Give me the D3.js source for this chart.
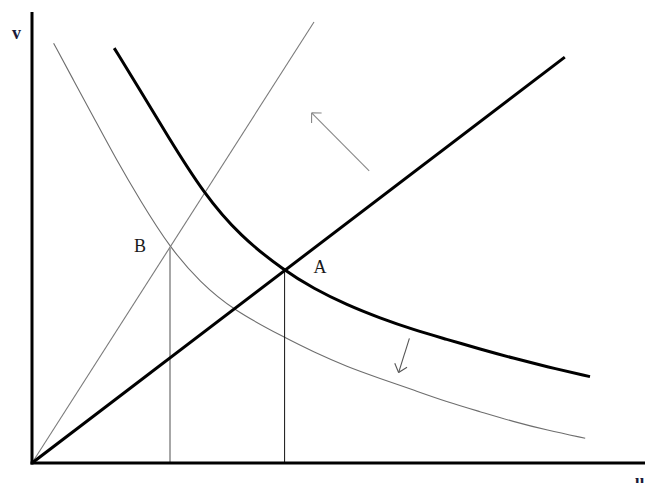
<!DOCTYPE html>
<html>
<head>
<meta charset="utf-8">
<script src="https://cdn.jsdelivr.net/npm/d3@7"></script>
<style>
  html, body { margin: 0; padding: 0; background: #fff; }
  svg { display: block; }
</style>
</head>
<body>
<svg id="chart" width="645" height="483"></svg>
<script>
// ---- data (u, v in chart units) ----
const thickCurveU = [1.37, 1.80, 2.25, 2.86, 3.47, 4.21, 4.69, 5.25, 5.80, 6.36, 6.91, 7.47, 8.02, 8.58, 9.30];
const thickCurveV = [9.22, 8.29, 7.29, 5.99, 5.04, 4.27, 3.88, 3.51, 3.22, 2.96, 2.75, 2.53, 2.33, 2.14, 1.92];
const thinCurveU  = [0.36, 0.69, 1.02, 1.41, 1.80, 2.30, 2.80, 3.35, 4.22, 4.69, 5.25, 5.80, 6.36, 6.91, 7.47, 8.02, 8.58, 9.22];
const thinCurveV  = [9.33, 8.51, 7.70, 6.73, 5.84, 4.78, 4.02, 3.40, 2.78, 2.47, 2.14, 1.88, 1.62, 1.36, 1.14, 0.92, 0.73, 0.55];
const thickRay = [[0, 0], [8.88, 9.02]];
const thinRay  = [[0, 0], [4.70, 9.80]];
const pointA = { label: "A", u: 4.21, v: 4.27 };
const pointB = { label: "B", u: 2.30, v: 4.78 };
const arrowUp   = [[5.62, 6.49], [4.66, 7.78]];
const arrowDown = [[6.29, 2.77], [6.11, 2.01]];
const axisLabels = { x: "u", y: "v" };

// ---- scales ----
const svg = d3.select("#chart");
const x = d3.scaleLinear().domain([0, 10]).range([32, 632]);
const y = d3.scaleLinear().domain([0, 10]).range([463, 13]);

const line = d3.line().x(d => x(d[0])).y(d => y(d[1]));
const curve = d3.line().x(d => x(d[0])).y(d => y(d[1])).curve(d3.curveBasis);

const thickPts = thickCurveU.map((u, i) => [u, thickCurveV[i]]);
const thinPts = thinCurveU.map((u, i) => [u, thinCurveV[i]]);

// thin curve & ray
svg.append("path").attr("d", curve(thinPts)).attr("fill", "none")
  .attr("stroke", "#6e6e6e").attr("stroke-width", 1.1);
svg.append("path").attr("d", line(thinRay)).attr("fill", "none")
  .attr("stroke", "#7a7a7a").attr("stroke-width", 1.1);

// drop lines
svg.append("line").attr("x1", x(pointB.u)).attr("x2", x(pointB.u))
  .attr("y1", y(pointB.v)).attr("y2", y(0))
  .attr("stroke", "#8a8a8a").attr("stroke-width", 1.5);
svg.append("line").attr("x1", x(pointA.u)).attr("x2", x(pointA.u))
  .attr("y1", y(pointA.v)).attr("y2", y(0))
  .attr("stroke", "#111").attr("stroke-width", 1);

// thick curve & ray
svg.append("path").attr("d", curve(thickPts)).attr("fill", "none")
  .attr("stroke", "#000").attr("stroke-width", 3);
svg.append("path").attr("d", line(thickRay)).attr("fill", "none")
  .attr("stroke", "#000").attr("stroke-width", 3);

// arrows
function arrow(seg, color, barbLen, barbAng) {
  const x0 = x(seg[0][0]), y0 = y(seg[0][1]), x1 = x(seg[1][0]), y1 = y(seg[1][1]);
  svg.append("line").attr("x1", x0).attr("y1", y0).attr("x2", x1).attr("y2", y1)
    .attr("stroke", color).attr("stroke-width", 1.1);
  const back = Math.atan2(y0 - y1, x0 - x1);
  [barbAng, -barbAng].forEach(a => {
    svg.append("line").attr("x1", x1).attr("y1", y1)
      .attr("x2", x1 + barbLen * Math.cos(back + a)).attr("y2", y1 + barbLen * Math.sin(back + a))
      .attr("stroke", color).attr("stroke-width", 1.1);
  });
}
arrow(arrowUp, "#888", 10, Math.PI / 4);
arrow(arrowDown, "#555", 10, 0.7);

// axes
svg.append("line").attr("x1", x(0)).attr("x2", x(0)).attr("y1", 12).attr("y2", y(0) + 1.5)
  .attr("stroke", "#000").attr("stroke-width", 3);
svg.append("line").attr("x1", x(0) - 1.5).attr("x2", 645).attr("y1", y(0)).attr("y2", y(0))
  .attr("stroke", "#000").attr("stroke-width", 3);

// labels
const font = "'Liberation Serif', 'Times New Roman', serif";
svg.append("text").text(axisLabels.y).attr("x", 12).attr("y", 38.5)
  .attr("font-family", font).attr("font-size", 18).attr("font-weight", "bold").attr("fill", "#1a1a3a");
svg.append("text").text(axisLabels.x).attr("x", 635).attr("y", 486)
  .attr("font-family", font).attr("font-size", 17).attr("font-weight", "bold").attr("fill", "#1a1a3a");
svg.append("text").text(pointB.label).attr("x", x(pointB.u) - 36).attr("y", y(pointB.v) + 4)
  .attr("font-family", font).attr("font-size", 18).attr("fill", "#1a1a1a");
svg.append("text").text(pointA.label).attr("x", x(pointA.u) + 29).attr("y", y(pointA.v) + 2)
  .attr("font-family", font).attr("font-size", 18).attr("fill", "#1a1a1a");
</script>
</body>
</html>
